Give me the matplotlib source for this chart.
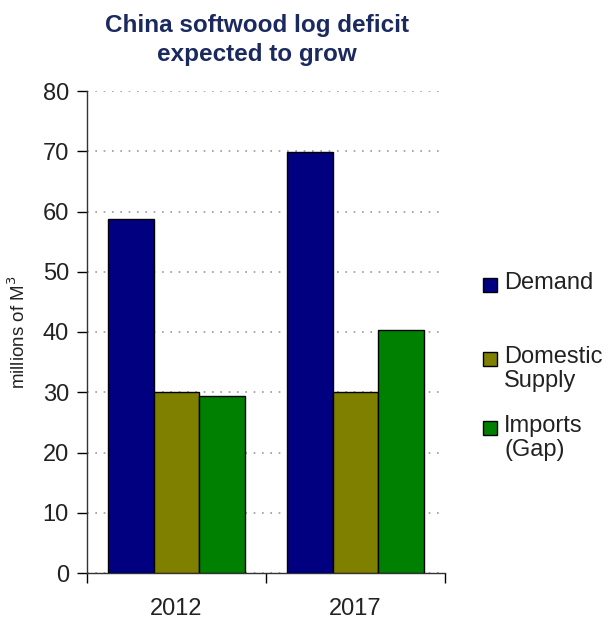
import matplotlib
matplotlib.use("Agg")
import matplotlib.pyplot as plt
from matplotlib.patches import Rectangle
import numpy as np

plt.rcParams['font.family'] = ['Liberation Sans', 'DejaVu Sans']

years = ["2012", "2017"]
series = ["Demand", "Domestic\nSupply", "Imports\n(Gap)"]
demand = [58.8, 69.8]
domestic = [30.0, 30.0]
imports = [29.4, 40.4]
colors = ["#000080", "#808000", "#008000"]
yticks = [0, 10, 20, 30, 40, 50, 60, 70, 80]

W, H = 608, 625
fig = plt.figure(figsize=(W / 100, H / 100), dpi=100)
ax = fig.add_axes([87 / W, 1 - 573 / H, (445 - 87) / W, (573 - 91) / H])

x = np.arange(len(years))
w = 0.255
for i, (vals, c) in enumerate(zip([demand, domestic, imports], colors)):
    ax.bar(x + (i - 1) * w, vals, width=w, color=c, edgecolor="black",
           linewidth=1.0, zorder=3)

ax.set_xlim(-0.5, 1.5)
ax.set_ylim(0, 80)
ax.set_yticks(yticks)
ax.set_yticklabels([str(v) for v in yticks], fontsize=17, color="#222222")
ax.set_xticks(x)
ax.set_xticklabels(years, fontsize=17, color="#222222")
ax.tick_params(axis="x", length=0, pad=18)
ax.set_xticks([-0.5, 0.5, 1.5], minor=True)
ax.tick_params(axis="x", which="minor", length=7, direction="out", width=1)
ax.tick_params(axis="y", length=7, direction="out", width=1, pad=6)

for s in ["top", "right"]:
    ax.spines[s].set_visible(False)
for s in ["left", "bottom"]:
    ax.spines[s].set_linewidth(1)
    ax.spines[s].set_color("#333333")

ax.grid(axis="y", linestyle=(0, (1, 4)), color="#999999", linewidth=1.2, zorder=0)
ax.set_axisbelow(True)

ax.set_ylabel("millions of M$^3$", fontsize=13.5, color="#222222", labelpad=10)

fig.text(257 / W, 0.978, "China softwood log deficit\nexpected to grow",
         ha="center", va="top", fontsize=17.5, fontweight="bold",
         color="#1b2a5e", linespacing=1.32)

# legend
leg_y = [1 - 285 / H, 1 - 359 / H, 1 - 428 / H]
sq = 14
for label, c, y in zip(series, colors, leg_y):
    fig.patches.append(Rectangle((483 / W, y - sq / 2 / H), sq / W, sq / H,
                                 transform=fig.transFigure, facecolor=c,
                                 edgecolor="black", linewidth=1))
    fig.text(504 / W, y + 12.9 / H, label, ha="left", va="top", fontsize=17,
             color="#222222", linespacing=1.14)

fig.savefig("out.png", dpi=100)
